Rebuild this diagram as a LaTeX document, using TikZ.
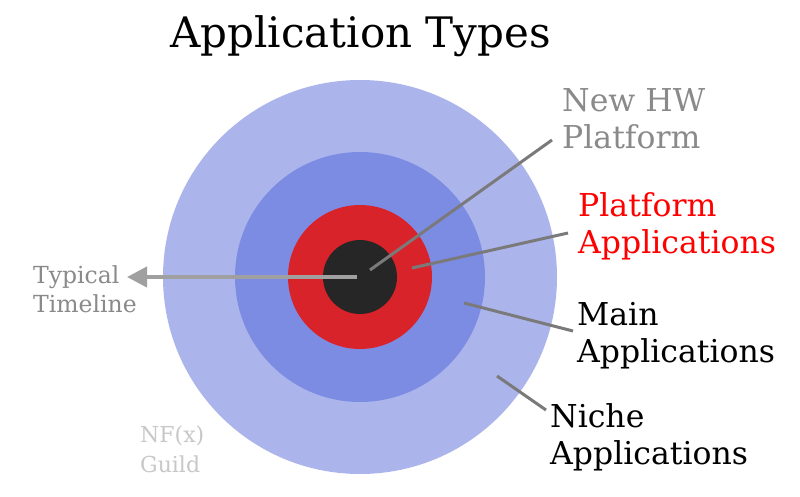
\documentclass[tikz,border=0pt]{standalone}
\usepackage{fontspec}
\setmainfont{DejaVu Serif}
\usetikzlibrary{arrows.meta}
\definecolor{ringA}{HTML}{ABB5EC}
\definecolor{ringB}{HTML}{7D8CE3}
\definecolor{ringC}{HTML}{D8232A}
\definecolor{ringD}{HTML}{262626}
\definecolor{lblgray}{HTML}{8A8A8A}
\definecolor{guildgray}{HTML}{C8C8C8}
\definecolor{pointer}{HTML}{7A7A7A}
\definecolor{timeline}{HTML}{A0A0A0}
\begin{document}
\begin{tikzpicture}[x=1pt,y=-1pt,
  ring/.style={circle, inner sep=0pt, draw=none},
  biglabel/.style={anchor=base west, align=left, inner sep=0pt,
    font=\fontsize{31.5}{37}\selectfont},
  smalllabel/.style={anchor=base west, align=left, inner sep=0pt,
    font=\fontsize{23.5}{29}\selectfont},
  pointerline/.style={draw=pointer, line width=3pt}]
\useasboundingbox (0,0) rectangle (800,496);
\fill[white] (0,0) rectangle (800,496);
\coordinate (c) at (360,277);
\node[ring, fill=ringA, minimum size=394pt] (outer) at (c) {};
\node[ring, fill=ringB, minimum size=250pt] (main) at (c) {};
\node[ring, fill=ringC, minimum size=144pt] (plat) at (c) {};
\node[ring, fill=ringD, minimum size=74pt] (core) at (c) {};

\node[anchor=base west, inner sep=0pt, font=\fontsize{42}{50}\selectfont] (title) at (170,47) {Application Types};

% base anchor of a two-line node sits on the second line's baseline
\node[biglabel, text=lblgray] (hw) at (562,148) {New HW\\Platform};
\node[biglabel, text=red] (pa) at (578,253) {Platform\\Applications};
\node[biglabel, text=black] (ma) at (577,362) {Main\\Applications};
\node[biglabel, text=black] (na) at (550,464) {Niche\\Applications};
\node[smalllabel, text=lblgray] (tt) at (33,312) {Typical\\Timeline};
\node[smalllabel, text=guildgray, font=\fontsize{22}{30}\selectfont] (guild) at (140,472) {NF(x)\\Guild};

\coordinate (hwA) at (370,270);
\coordinate (hwB) at (552,140);
\coordinate (paA) at (412,268);
\coordinate (paB) at (568,233);
\coordinate (maA) at (464,303);
\coordinate (maB) at (573,331);
\coordinate (naA) at (497,376);
\coordinate (naB) at (546,410);
\coordinate (ttA) at (357,277);
\coordinate (ttB) at (127,277);

\draw[pointerline] (hwA) -- (hwB);
\draw[pointerline] (paA) -- (paB);
\draw[pointerline] (maA) -- (maB);
\draw[pointerline] (naA) -- (naB);
\draw[draw=timeline, line width=4pt, -{Triangle[length=20pt,width=20pt]}] (ttA) -- (ttB);
\end{tikzpicture}
\end{document}
